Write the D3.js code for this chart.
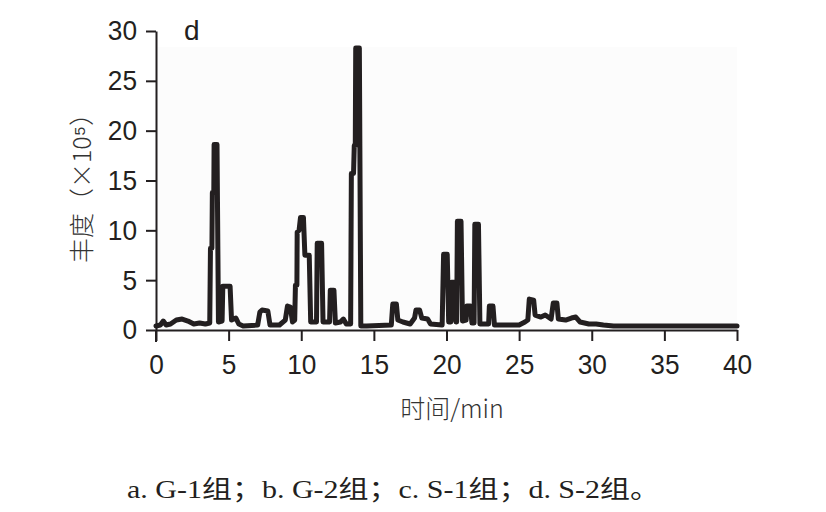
<!DOCTYPE html>
<html><head><meta charset="utf-8">
<script src="https://cdn.jsdelivr.net/npm/d3@7"></script>
<style>
html,body{margin:0;padding:0;background:#fff;}
svg{display:block;}
</style></head>
<body>
<svg id="chart" width="826" height="512"></svg>
<script>
// Chromatogram trace (retention time in min, abundance in ×10^5)
const retentionTime = [0,0.3,0.5,0.7,1.0,1.4,1.8,2.2,2.6,3.0,3.4,3.7,3.75,3.85,3.88,3.98,4.0,4.2,4.3,4.55,4.6,5.1,5.2,5.5,5.7,6.0,7.0,7.15,7.3,7.7,7.85,8.5,8.9,9.05,9.25,9.4,9.55,9.6,9.7,9.72,9.85,9.95,10.15,10.25,10.55,10.65,11.05,11.1,11.4,11.5,11.95,12.0,12.25,12.35,12.7,12.9,13.1,13.4,13.45,13.6,13.65,13.72,13.75,14.0,14.1,14.5,16.2,16.3,16.55,16.65,17.0,17.5,17.8,17.9,18.15,18.3,18.7,18.9,19.7,19.8,20.05,20.15,20.3,20.35,20.55,20.65,20.7,20.75,21.0,21.1,21.35,21.4,21.65,21.75,21.9,21.95,22.2,22.3,22.9,22.95,23.2,23.3,25.0,25.4,25.6,25.7,26.0,26.1,26.5,26.8,27.2,27.35,27.6,27.7,28.2,28.6,28.9,29.2,29.8,30.3,30.8,31.5,40];
const abundance = [0.4,0.5,0.9,0.5,0.6,1.0,1.1,0.9,0.6,0.7,0.6,0.7,8.2,8.2,13.8,13.8,18.6,18.6,0.8,0.9,4.4,4.4,1.0,1.2,0.6,0.4,0.5,1.8,2.0,1.9,0.5,0.5,1.0,2.4,2.3,0.8,1.0,4.5,4.5,9.8,10.0,11.3,11.3,7.5,7.5,0.8,0.8,8.7,8.7,0.8,0.8,4.0,4.0,0.7,0.8,1.1,0.6,0.6,15.7,15.7,18.5,18.5,28.3,28.3,0.4,0.4,0.5,2.6,2.6,1.0,0.8,0.6,1.2,2.0,2.0,1.2,1.1,0.6,0.5,7.6,7.6,0.8,0.8,4.8,4.8,0.8,0.8,10.9,10.9,0.9,1.0,2.4,2.4,0.7,0.7,10.6,10.6,0.6,0.6,2.4,2.4,0.5,0.5,0.8,1.0,3.1,3.0,1.5,1.3,1.5,1.1,2.7,2.7,1.1,1.0,1.2,1.3,0.8,0.6,0.6,0.5,0.4,0.4];
const xTicks = [0,5,10,15,20,25,30,35,40];
const yTicks = [0,5,10,15,20,25,30];
const xTitle = "时间/min";
const yTitle = "丰度（×10⁵）";
const panelLabel = "d";
const caption = "a. G-1组；b. G-2组；c. S-1组；d. S-2组。";

const svg = d3.select("#chart");
const x = d3.scaleLinear().domain([0,40]).range([156,737]);
const y = d3.scaleLinear().domain([0,30]).range([330,31]);
const ink = "#231f20";
const numFont = "'Liberation Sans', Arial, sans-serif";

// faint plot background
svg.append("rect").attr("x",157).attr("y",47).attr("width",580).attr("height",283).attr("fill","#fcfcfc");

const data = retentionTime.map((t,i)=>({t, v: abundance[i]}));
svg.append("path").datum(data)
  .attr("fill","none").attr("stroke",ink).attr("stroke-width",5)
  .attr("stroke-linejoin","round").attr("stroke-linecap","round")
  .attr("d", d3.line().x(d=>x(d.t)).y(d=>y(d.v)));

const yAxis = svg.append("g").attr("transform","translate(156,0)")
  .call(d3.axisLeft(y).tickValues(yTicks).tickSize(10).tickSizeOuter(0).tickPadding(9));
const xAxis = svg.append("g").attr("transform","translate(0,330)")
  .call(d3.axisBottom(x).tickValues(xTicks).tickSize(11).tickSizeOuter(0).tickPadding(13));
[yAxis,xAxis].forEach(g=>{
  g.select(".domain").attr("stroke",ink).attr("stroke-width",2);
  g.selectAll(".tick line").attr("stroke",ink).attr("stroke-width",2);
  g.selectAll(".tick text").attr("fill",ink).style("font-family",numFont).style("font-size","28px")
    .attr("textLength", d => String(d).length * 14.6).attr("lengthAdjust","spacingAndGlyphs");
});
// extend y-axis line below x-axis
svg.append("line").attr("x1",156).attr("x2",156).attr("y1",330).attr("y2",342).attr("stroke",ink).attr("stroke-width",2);

svg.append("text").attr("x",184).attr("y",40).text(panelLabel)
  .attr("fill",ink).style("font-family",numFont).style("font-size","28px");

svg.append("text").attr("x",452).attr("y",418).attr("text-anchor","middle").text(xTitle)
  .attr("fill","#333").style("font-family","'Noto Sans CJK SC', sans-serif").style("font-size","25px").style("font-weight","300");

svg.append("text").attr("transform","translate(91,182) rotate(-90)").attr("text-anchor","middle").text(yTitle)
  .attr("fill","#333").style("font-family","'Noto Sans CJK SC', sans-serif").style("font-size","25px").style("font-weight","300");

svg.append("text").attr("x",127).attr("y",498).text(caption)
  .attr("textLength",533).attr("lengthAdjust","spacingAndGlyphs")
  .attr("fill","#231f20").style("font-family","'Liberation Serif', 'Noto Sans CJK SC', serif").style("font-size","25px");
</script>
</body></html>
